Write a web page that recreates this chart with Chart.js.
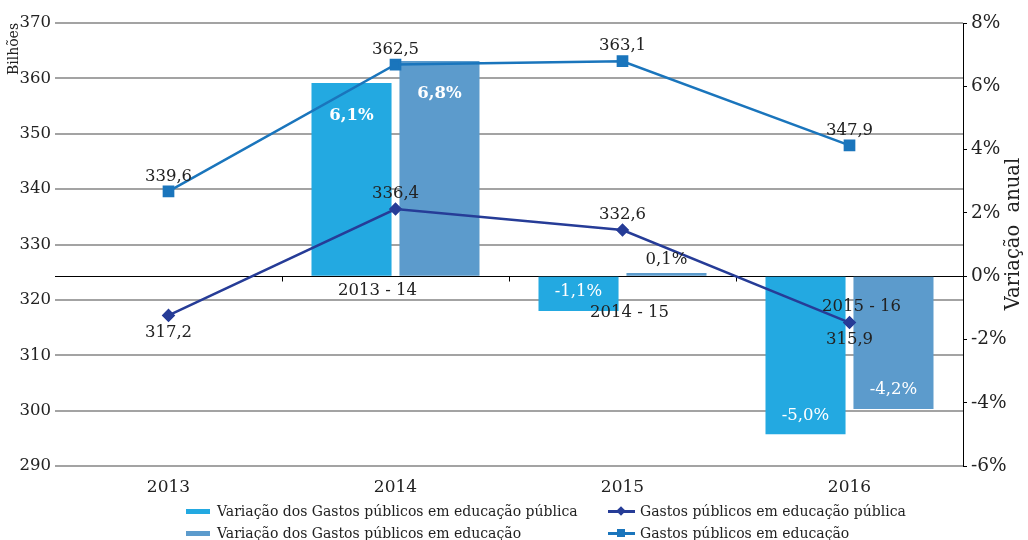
<!DOCTYPE html>
<html>
<head>
<meta charset="utf-8">
<script src="https://cdn.jsdelivr.net/npm/chart.js@4.4.1/dist/chart.umd.min.js"></script>
<style>
  body { margin: 0; background: #fff; }
  #wrap { position: relative; width: 1028px; height: 540px; overflow: hidden; }
  #legend {
    position: absolute; left: 186px; top: 502px;
    display: grid; grid-template-columns: 422px 400px; row-gap: 4px;
    font-family: "DejaVu Serif", serif; font-size: 14px; color: #222;
  }
  .item { display: flex; align-items: center; height: 18px; white-space: nowrap; }
  .box { width: 24px; height: 5px; margin-right: 7px; }
  .ln { position: relative; width: 27px; height: 3px; margin-right: 5px; }
  .ln i { position: absolute; left: 9px; top: -3px; width: 8px; height: 8px; }
  .ln .dia { transform: rotate(45deg) scale(0.85); }
</style>
</head>
<body>
<div id="wrap">
  <canvas id="chart_gastos" width="1028" height="540"></canvas>
  <div id="legend">
    <div class="item"><span class="box" style="background:#23A9E1"></span>Variação dos Gastos públicos em educação pública</div>
    <div class="item"><span class="ln" style="background:#263C97"><i class="dia" style="background:#263C97"></i></span>Gastos públicos em educação pública</div>
    <div class="item"><span class="box" style="background:#5C9BCC"></span>Variação dos Gastos públicos em educação</div>
    <div class="item"><span class="ln" style="background:#1A75BC"><i style="background:#1A75BC"></i></span>Gastos públicos em educação</div>
  </div>
</div>
<script>
const years = ["2013", "2014", "2015", "2016"];
const periods = ["", "2013 - 14", "2014 - 15", "2015 - 16"];
const varGastosPublica = [null, 6.1, -1.1, -5.0];
const varGastosTotal = [null, 6.8, 0.1, -4.2];
const gastosPublica = [317.2, 336.4, 332.6, 315.9];
const gastosTotal = [339.6, 362.5, 363.1, 347.9];

const serif = "DejaVu Serif";
const fmt = (v, d) => v.toFixed(d).replace(".", ",");

// labels, zero line, axis titles
const extras = {
  id: "extras",
  beforeDatasetsDraw(chart) {
    const ctx = chart.ctx;
    const area = chart.chartArea;
    const x = chart.scales.x;
    const y0 = Math.round(chart.scales.y1.getPixelForValue(0)) + 0.5;
    ctx.save();
    ctx.strokeStyle = "#000";
    ctx.lineWidth = 1;
    ctx.beginPath();
    ctx.moveTo(area.left, y0);
    ctx.lineTo(area.right + 4, y0);
    for (let i = 0; i < years.length - 1; i++) {
      const bx = Math.round((x.getPixelForValue(i) + x.getPixelForValue(i + 1)) / 2) + 0.5;
      ctx.moveTo(bx, y0);
      ctx.lineTo(bx, y0 + 5);
    }
    ctx.stroke();
    ctx.restore();
  },
  afterDatasetsDraw(chart) {
    const ctx = chart.ctx;
    const x = chart.scales.x;
    const y1 = chart.scales.y1;
    ctx.save();
    ctx.textAlign = "center";
    ctx.textBaseline = "middle";

    // period labels near the zero line
    const shift = [[0, 0], [-18, 15], [7, 37], [12, 31]];
    ctx.font = "16.5px '" + serif + "'";
    ctx.fillStyle = "#222";
    periods.forEach((p, i) => {
      if (!p) return;
      ctx.fillText(p, x.getPixelForValue(i) + shift[i][0], y1.getPixelForValue(0) + shift[i][1]);
    });

    // bar labels
    [0, 1].forEach(di => {
      const meta = chart.getDatasetMeta(di);
      const vals = chart.data.datasets[di].data;
      meta.data.forEach((bar, i) => {
        const v = vals[i];
        if (v === null) return;
        let ty, col = "#fff";
        if (Math.abs(v) < 0.5) { ty = bar.y - 13; col = "#222"; }
        else if (v > 0) ty = bar.y + 33;
        else ty = bar.y - 19;
        ctx.font = (v > 0 && Math.abs(v) >= 0.5 ? "bold " : "") + "16.5px '" + serif + "'";
        ctx.fillStyle = col;
        ctx.fillText(fmt(v, 1) + "%", bar.x, ty);
      });
    });

    // line labels
    ctx.font = "16.5px '" + serif + "'";
    ctx.fillStyle = "#222";
    const below = [[true, false, false, true], [false, false, false, false]];
    [2, 3].forEach((di, k) => {
      const meta = chart.getDatasetMeta(di);
      const vals = chart.data.datasets[di].data;
      meta.data.forEach((pt, i) => {
        const ty = below[k][i] ? pt.y + 17 : pt.y - 15;
        ctx.fillText(fmt(vals[i], 1), pt.x, ty);
      });
    });

    // axis titles
    ctx.fillStyle = "#222";
    ctx.font = "14px '" + serif + "'";
    ctx.translate(14, 49);
    ctx.rotate(-Math.PI / 2);
    ctx.fillText("Bilhões", 0, 0);
    ctx.setTransform(1, 0, 0, 1, 0, 0);
    ctx.font = "19.5px '" + serif + "'";
    ctx.translate(1014, 234);
    ctx.rotate(-Math.PI / 2);
    ctx.fillText("Variação  anual", 0, 0);
    ctx.restore();
  }
};

const chart_gastos = document.getElementById("chart_gastos");

new Chart(chart_gastos, {
  data: {
    labels: years,
    datasets: [
      {
        type: "bar",
        label: "Variação dos Gastos públicos em educação pública",
        data: varGastosPublica,
        backgroundColor: "#23A9E1",
        yAxisID: "y1",
        categoryPercentage: 0.775,
        barPercentage: 0.91,
        order: 2,
      },
      {
        type: "bar",
        label: "Variação dos Gastos públicos em educação",
        data: varGastosTotal,
        backgroundColor: "#5C9BCC",
        yAxisID: "y1",
        categoryPercentage: 0.775,
        barPercentage: 0.91,
        order: 2,
      },
      {
        type: "line",
        label: "Gastos públicos em educação pública",
        data: gastosPublica,
        borderColor: "#263C97",
        backgroundColor: "#263C97",
        borderWidth: 2.5,
        pointStyle: "rectRot",
        pointRadius: 5,
        yAxisID: "y",
        order: 1,
      },
      {
        type: "line",
        label: "Gastos públicos em educação",
        data: gastosTotal,
        borderColor: "#1A75BC",
        backgroundColor: "#1A75BC",
        borderWidth: 2.5,
        pointStyle: "rect",
        pointRadius: 6.5,
        yAxisID: "y",
        order: 1,
      },
    ],
  },
  options: {
    responsive: false,
    animation: false,
    layout: { padding: { top: 23, bottom: 0 } },
    plugins: {
      legend: { display: false },
      tooltip: { enabled: false },
    },
    scales: {
      x: {
        grid: { display: false },
        border: { display: false },
        ticks: { color: "#222", font: { family: serif, size: 17 }, padding: 3 },
        afterFit(scale) { scale.height = 74; },
      },
      y: {
        position: "left",
        min: 290,
        max: 370,
        ticks: { stepSize: 10, color: "#222", font: { family: serif, size: 16.5 }, padding: 4 },
        grid: { color: "#A3A3A3", lineWidth: 2, drawTicks: false },
        border: { display: false },
        afterFit(scale) { scale.width = 55; },
      },
      y1: {
        position: "right",
        min: -6,
        max: 8,
        ticks: {
          stepSize: 2,
          color: "#222",
          font: { family: serif, size: 18.5 },
          padding: 4,
          callback: v => v + "%",
        },
        grid: { drawOnChartArea: false, color: "#000", tickLength: 4 },
        border: { display: true, color: "#000", width: 1 },
        afterFit(scale) { scale.width = 65; },
      },
    },
  },
  plugins: [extras],
});
</script>
</body>
</html>
